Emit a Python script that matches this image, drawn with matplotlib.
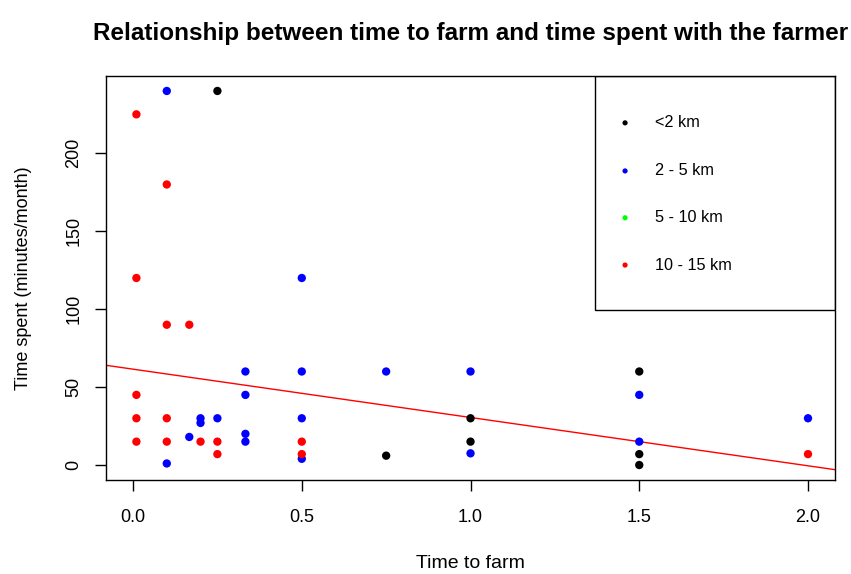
import matplotlib
matplotlib.use("Agg")
import matplotlib.pyplot as plt
from matplotlib.patches import Rectangle

plt.rcParams['font.family'] = ['Liberation Sans', 'DejaVu Sans']

# distance groups (legend order)
groups = ['<2 km', '2 - 5 km', '5 - 10 km', '10 - 15 km']
group_colors = ['black', 'blue', '#00FF00', 'red']

# time to farm (hours) / time spent (minutes/month) per group
x_lt2 = [0.25, 0.75, 1.0, 1.0, 1.5, 1.5, 1.5]
y_lt2 = [240, 6, 30, 15, 60, 7, 0]

x_2to5 = [0.1, 0.1, 0.1667, 0.2, 0.2, 0.25, 0.333, 0.333, 0.333, 0.333,
          0.5, 0.5, 0.5, 0.5, 0.75, 1.0, 1.0, 1.5, 1.5, 2.0]
y_2to5 = [240, 1, 18, 30, 27, 30, 60, 45, 20, 15,
          120, 60, 30, 4, 60, 60, 7.5, 45, 15, 30]

x_5to10 = []
y_5to10 = []

x_10to15 = [0.01, 0.01, 0.01, 0.01, 0.01, 0.1, 0.1, 0.1, 0.1, 0.1667,
            0.2, 0.25, 0.25, 0.5, 0.5, 2.0]
y_10to15 = [225, 120, 45, 30, 15, 180, 90, 30, 15, 90,
            15, 15, 7, 15, 7, 7]

# fitted line
fit_intercept = 61.5
fit_slope = -31.0

fig = plt.figure(figsize=(8.51, 5.74), dpi=100)
ax = fig.add_axes([0.1246, 0.1638, 0.8566, 0.7038])

xs = [x_lt2, x_2to5, x_5to10, x_10to15]
ys = [y_lt2, y_2to5, y_5to10, y_10to15]
for gx, gy, c in zip(xs, ys, group_colors):
    if gx:
        ax.scatter(gx, gy, s=36, color=c, edgecolors='none', zorder=3)

ax.set_xlim(-0.08, 2.08)
ax.set_ylim(-9.6, 249.6)
ax.axline((0, fit_intercept), slope=fit_slope, color='red', lw=1, zorder=2)

ax.set_xticks([0.0, 0.5, 1.0, 1.5, 2.0])
ax.set_xticklabels(['0.0', '0.5', '1.0', '1.5', '2.0'])
ax.set_yticks([0, 50, 100, 150, 200])
ax.tick_params(axis='both', labelsize=13, length=8, width=1)
ax.tick_params(axis='x', pad=13)
ax.tick_params(axis='y', pad=9)
for lbl in ax.get_yticklabels():
    lbl.set_rotation(90)
    lbl.set_va('center')
for sp in ax.spines.values():
    sp.set_linewidth(1)

ax.set_xlabel('Time to farm', fontsize=14, labelpad=21)
ax.set_ylabel('Time spent (minutes/month)', fontsize=13, labelpad=24)
fig.suptitle('Relationship between time to farm and time spent with the farmer',
             fontsize=17.5, fontweight='bold', x=0.553, y=0.962)

# legend box
ax.add_patch(Rectangle((0.671, 0.421), 0.329, 0.579, transform=ax.transAxes,
                       fill=False, edgecolor='black', lw=1, zorder=4))
leg_y = [0.884, 0.765, 0.649, 0.532]
for lab, c, yy in zip(groups, group_colors, leg_y):
    ax.scatter([0.712], [yy], s=14, color=c, edgecolors='none',
               transform=ax.transAxes, zorder=5)
    ax.text(0.753, yy, lab, transform=ax.transAxes, fontsize=11.7,
            va='center', ha='left')

fig.savefig('out.png', dpi=100)
